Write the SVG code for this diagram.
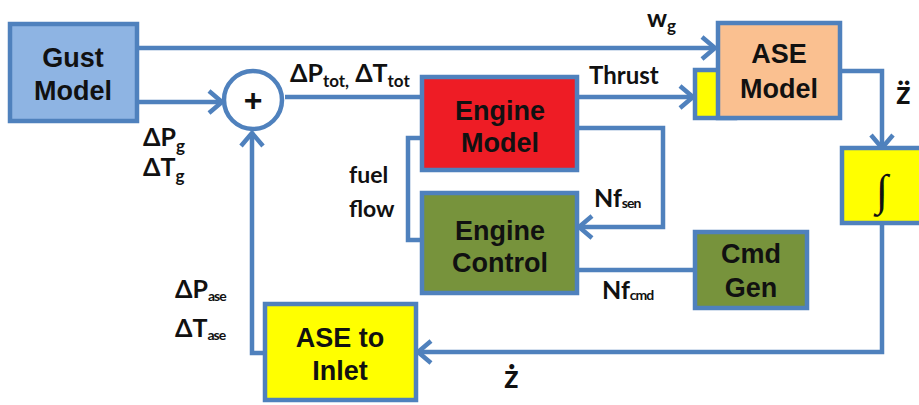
<svg xmlns="http://www.w3.org/2000/svg" width="919" height="405" viewBox="0 0 919 405">
<style>
.box{stroke:#4f81bd;stroke-width:4.5}
.ln{fill:none;stroke:#4f81bd;stroke-width:4.5;stroke-linejoin:miter}
.t{font-family:"Liberation Sans",Arial,sans-serif;font-weight:bold;font-size:27px;fill:#111;text-anchor:middle}
.l{font-family:Lato,"Liberation Sans",Arial,sans-serif;font-weight:bold;font-size:23px;fill:#111}
.d{font-size:25px}
.big{font-size:32px}
.s{font-size:17px}
.ss{font-size:14px;letter-spacing:-1px}
</style>
<defs>
<marker id="ar" markerUnits="userSpaceOnUse" markerWidth="20" markerHeight="28" refX="16" refY="14" orient="auto">
<path d="M3,3 L16,14 L3,25" fill="none" stroke="#4f81bd" stroke-width="4.5"/>
</marker>
</defs>
<rect width="919" height="405" fill="#fff"/>
<g id="connectors">
<path class="ln" d="M137,48 H715" marker-end="url(#ar)"/>
<path class="ln" d="M137,102 H222" marker-end="url(#ar)"/>
<path class="ln" d="M285,97 H422"/>
<path class="ln" d="M577,97 H693" marker-end="url(#ar)"/>
<path class="ln" d="M840,71 H882 V148" marker-end="url(#ar)"/>
<path class="ln" d="M882,223 V352 H418" marker-end="url(#ar)"/>
<path class="ln" d="M265,353 H252 V133" marker-end="url(#ar)"/>
<path class="ln" d="M577,128 H663 V227 H579" marker-end="url(#ar)"/>
<path class="ln" d="M422,138 H408 V240 H422"/>
<path class="ln" d="M695,270 H577"/>
</g>
<g id="labels">
<text class="l d" x="647" y="27">w<tspan class="s" dy="5">g</tspan></text>
<text class="l d" x="290" y="82">ΔP<tspan class="s" dy="5">tot,</tspan><tspan dy="-5"> ΔT</tspan><tspan class="s" dy="5">tot</tspan></text>
<text class="l d" x="143" y="146">ΔP<tspan class="s" dy="6">g</tspan></text>
<text class="l d" x="143" y="176">ΔT<tspan class="s" dy="6">g</tspan></text>
<text class="l" x="589" y="84" style="font-size:24px">Thrust</text>
<text class="l" x="349" y="183">fuel</text>
<text class="l" x="349" y="217">flow</text>
<text class="l d" x="594" y="207">Nf<tspan class="ss" dy="1">sen</tspan></text>
<text class="l d" x="602" y="299">Nf<tspan class="ss" dy="1">cmd</tspan></text>
<text class="l d" x="175" y="298">ΔP<tspan class="ss" dy="3">ase</tspan></text>
<text class="l d" x="175" y="337">ΔT<tspan class="ss" dy="3">ase</tspan></text>
<text class="l big" x="896" y="104">z̈</text>
<text class="l big" x="504" y="388">ż</text>
</g>
<g id="gust-model">
<rect class="box" x="10" y="24" width="127" height="97" fill="#8eb4e3"/>
<text class="t" x="73" y="67">Gust</text>
<text class="t" x="73" y="100">Model</text>
</g>
<g id="sum">
<circle class="box" cx="253" cy="100" r="29" fill="#fff"/>
<text x="253" y="111" font-family="Liberation Sans,Arial,sans-serif" font-weight="bold" font-size="32" text-anchor="middle" fill="#111">+</text>
</g>
<g id="engine-model">
<rect class="box" x="422" y="77" width="155" height="93" fill="#ee1c25"/>
<text class="t" x="500" y="120">Engine</text>
<text class="t" x="500" y="152">Model</text>
</g>
<g id="engine-control">
<rect class="box" x="422" y="193" width="155" height="100" fill="#77933c"/>
<text class="t" x="500" y="240">Engine</text>
<text class="t" x="500" y="272">Control</text>
</g>
<g id="ase-thrust-input">
<rect class="box" x="695" y="70" width="40" height="48" fill="#ffff00"/>
</g>
<g id="ase-model">
<rect class="box" x="718" y="23" width="122" height="95" fill="#fac090"/>
<text class="t" x="779" y="63">ASE</text>
<text class="t" x="779" y="98">Model</text>
</g>
<g id="integrator">
<rect class="box" x="842" y="148" width="85" height="75" fill="#ffff00"/>
<text x="882" y="205" font-family="Liberation Serif,serif" font-style="italic" font-size="44" text-anchor="middle" fill="#111">∫</text>
</g>
<g id="cmd-gen">
<rect class="box" x="695" y="232" width="112" height="76" fill="#77933c"/>
<text class="t" x="751" y="263">Cmd</text>
<text class="t" x="751" y="297">Gen</text>
</g>
<g id="ase-to-inlet">
<rect class="box" x="265" y="304" width="151" height="96" fill="#ffff00"/>
<text class="t" x="340" y="347">ASE to</text>
<text class="t" x="340" y="380">Inlet</text>
</g>
</svg>
